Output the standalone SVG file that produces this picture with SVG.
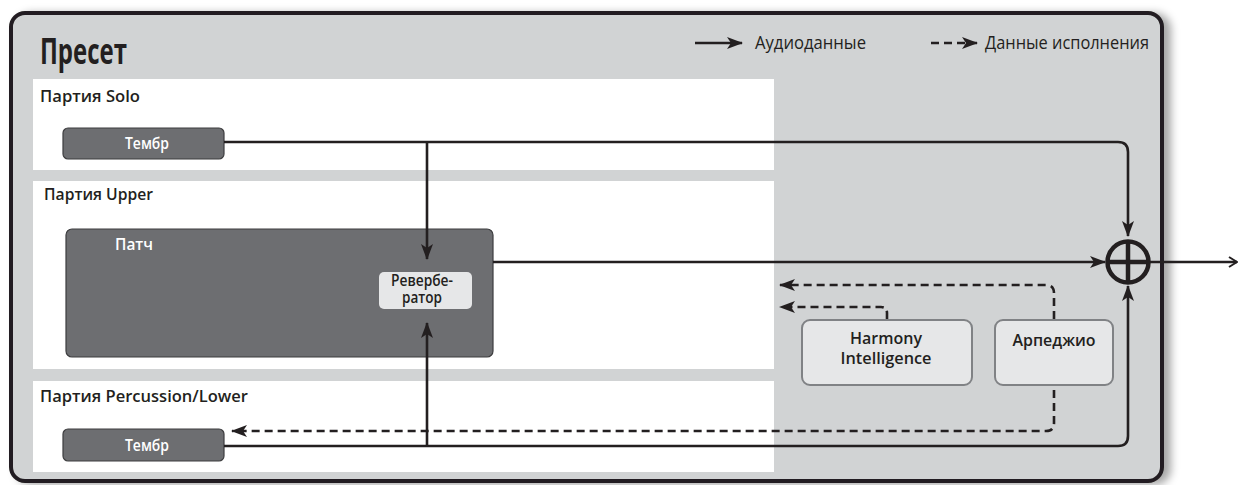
<svg xmlns="http://www.w3.org/2000/svg" width="1239" height="485" viewBox="0 0 1239 485">
  <defs>
    <filter id="shadow" x="-5%" y="-5%" width="112%" height="112%">
      <feDropShadow dx="7" dy="2" stdDeviation="4" flood-color="#000" flood-opacity="0.35"/>
    </filter>
    <marker id="arrow" viewBox="0 0 16 12" markerWidth="16" markerHeight="12" refX="15" refY="6" orient="auto" markerUnits="userSpaceOnUse">
      <path d="M0,0 L16,6 L0,12 L4,6 z" fill="#231f20"/>
    </marker>
    <marker id="chevron" viewBox="0 0 10 12" markerWidth="10" markerHeight="12" refX="9" refY="6" orient="auto" markerUnits="userSpaceOnUse">
      <path d="M1,1 L9,6 L1,11" fill="none" stroke="#231f20" stroke-width="2"/>
    </marker>
    <style>
      .lbl { font-family: "Open Sans", "Noto Sans", sans-serif; fill: #231f20; }
      .part { font-family: "Open Sans", "Noto Sans", sans-serif; font-weight: 600; font-size: 15.5px; fill: #231f20; }
      .dark { fill: #6d6e71; stroke: #3d3d3f; stroke-width: 1.2; }
      .light { fill: #e6e7e8; stroke: #808285; stroke-width: 2; }
      .white-t { font-family: "Open Sans", "Noto Sans", sans-serif; font-weight: 600; font-size: 15.5px; fill: #ffffff; }
      .box-t { font-family: "Open Sans", "Noto Sans", sans-serif; font-weight: 600; font-size: 16px; fill: #231f20; text-anchor: middle; }
      .audio { fill: none; stroke: #231f20; stroke-width: 2.6; }
      .perf { fill: none; stroke: #231f20; stroke-width: 2.6; stroke-dasharray: 8 5; }
    </style>
  </defs>

  <rect width="1239" height="485" fill="#ffffff"/>

  <!-- Preset frame -->
  <g id="preset">
    <rect x="11" y="13" width="1151" height="468" rx="14" fill="#d1d3d4" stroke="#231f20" stroke-width="4" filter="url(#shadow)"/>
    <text x="40" y="64" font-family="Open Sans, Noto Sans, sans-serif" font-weight="bold" font-size="36" fill="#231f20" textLength="87" lengthAdjust="spacingAndGlyphs">Пресет</text>
  </g>

  <!-- Legend -->
  <g id="legend">
    <line x1="695" y1="43" x2="742" y2="43" class="audio" marker-end="url(#arrow)"/>
    <text x="755" y="49" class="lbl" font-size="17.5" textLength="111" lengthAdjust="spacingAndGlyphs">Аудиоданные</text>
    <line x1="931" y1="43" x2="977" y2="43" class="perf" stroke-dasharray="9 6" marker-end="url(#arrow)"/>
    <text x="985" y="49" class="lbl" font-size="17.5" textLength="164" lengthAdjust="spacingAndGlyphs">Данные исполнения</text>
  </g>

  <!-- Part panels -->
  <g id="part-solo">
    <rect x="33" y="79" width="741" height="91" fill="#ffffff"/>
    <text x="40" y="102" class="part" textLength="100" lengthAdjust="spacingAndGlyphs">Партия Solo</text>
  </g>
  <g id="part-upper">
    <rect x="33" y="181" width="741" height="188" fill="#ffffff"/>
    <text x="44" y="200" class="part" textLength="109" lengthAdjust="spacingAndGlyphs">Партия Upper</text>
  </g>
  <g id="part-lower">
    <rect x="33" y="381" width="741" height="91" fill="#ffffff"/>
    <text x="40" y="402" class="part" textLength="208" lengthAdjust="spacingAndGlyphs">Партия Percussion/Lower</text>
  </g>

  <!-- Tones and patch -->
  <g id="tone-solo">
    <rect x="63" y="128" width="161" height="31" rx="5" class="dark"/>
    <text x="147" y="149" class="white-t" text-anchor="middle" textLength="44" lengthAdjust="spacingAndGlyphs">Тембр</text>
  </g>
  <g id="tone-lower">
    <rect x="63" y="429" width="161" height="32" rx="5" class="dark"/>
    <text x="147" y="451" class="white-t" text-anchor="middle" textLength="44" lengthAdjust="spacingAndGlyphs">Тембр</text>
  </g>
  <g id="patch">
    <rect x="66" y="229" width="427" height="128" rx="6" class="dark"/>
    <text x="115" y="250" class="white-t" textLength="38" lengthAdjust="spacingAndGlyphs">Патч</text>
  </g>
  <g id="reverb">
    <rect x="379" y="272" width="93" height="37" rx="5" fill="#e6e7e8"/>
    <text x="422" y="286" class="box-t" font-size="12" textLength="62" lengthAdjust="spacingAndGlyphs">Ревербе-</text>
    <text x="422" y="303" class="box-t" font-size="12" textLength="40" lengthAdjust="spacingAndGlyphs">ратор</text>
  </g>

  <!-- Performance data generators -->
  <g id="harmony">
    <rect x="802" y="320" width="170" height="65" rx="8" class="light"/>
    <text x="886" y="344" class="box-t" textLength="72" lengthAdjust="spacingAndGlyphs">Harmony</text>
    <text x="886" y="364" class="box-t" textLength="91" lengthAdjust="spacingAndGlyphs">Intelligence</text>
  </g>
  <g id="arpeggio">
    <rect x="995" y="320" width="118" height="65" rx="8" class="light"/>
    <text x="1054" y="346" class="box-t" textLength="83" lengthAdjust="spacingAndGlyphs">Арпеджио</text>
  </g>

  <!-- Mixer -->
  <g id="mixer">
    <circle cx="1128" cy="262" r="20.5" fill="none" stroke="#231f20" stroke-width="4.5"/>
    <line x1="1128" y1="242" x2="1128" y2="282" stroke="#231f20" stroke-width="4.5"/>
    <line x1="1108" y1="262" x2="1148" y2="262" stroke="#231f20" stroke-width="4.5"/>
  </g>

  <!-- Connectors -->
  <g id="connectors">
    <path d="M224,142 H1118 Q1128,142 1128,152 V236" class="audio" stroke-width="2.2" marker-end="url(#arrow)"/>
    <path d="M427,142 V259" class="audio" marker-end="url(#arrow)"/>
    <path d="M493,262 H1105" class="audio" marker-end="url(#arrow)"/>
    <path d="M224,446 H1118 Q1128,446 1128,436 V286" class="audio" stroke-width="2.2" marker-end="url(#arrow)"/>
    <path d="M427,446 V323" class="audio" marker-end="url(#arrow)"/>
    <path d="M1150,262 H1237" class="audio" marker-end="url(#chevron)"/>
    <path d="M1054,319 V293 Q1054,285 1046,285 H780" class="perf" marker-end="url(#arrow)"/>
    <path d="M887,319 V313 Q887,307 881,307 H780" class="perf" marker-end="url(#arrow)"/>
    <path d="M1054,390 V423 Q1054,431 1046,431 H232" class="perf" marker-end="url(#arrow)"/>
  </g>
</svg>
